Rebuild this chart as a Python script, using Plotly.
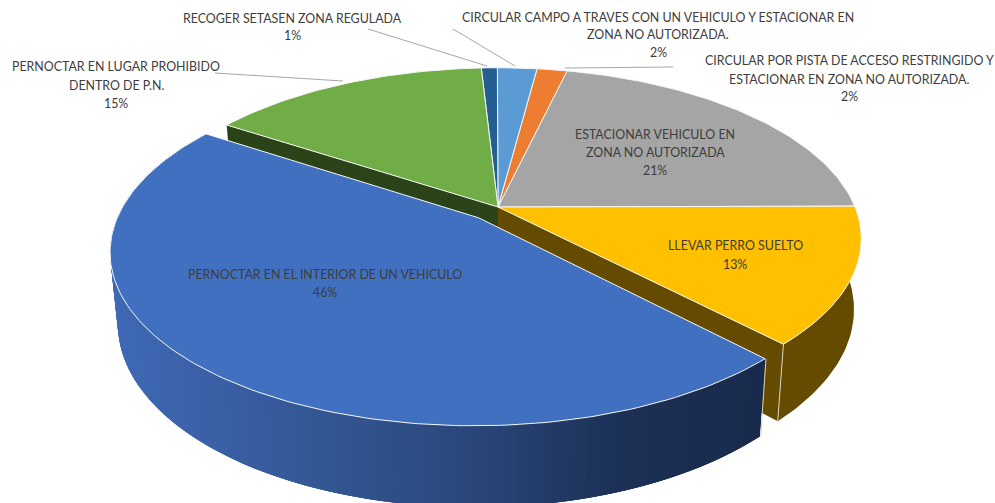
import numpy as np
import plotly.graph_objects as go

categories = [
    "LLEVAR PERRO SUELTO",
    "PERNOCTAR EN EL INTERIOR DE UN VEHICULO",
    "PERNOCTAR EN LUGAR PROHIBIDO\nDENTRO DE P.N.",
    "RECOGER SETASEN ZONA REGULADA",
    "CIRCULAR CAMPO A TRAVES CON UN VEHICULO Y ESTACIONAR EN\nZONA NO AUTORIZADA.",
    "CIRCULAR POR PISTA DE ACCESO RESTRINGIDO Y\nESTACIONAR EN ZONA NO AUTORIZADA.",
    "ESTACIONAR VEHICULO EN\nZONA NO AUTORIZADA",
]
values = [12.9, 46.4, 14.9, 0.85, 2.1, 1.6, 21.25]
percent_labels = ["13%", "46%", "15%", "1%", "2%", "2%", "21%"]
top_colors = ["#FFC000", "#4170C0", "#70AD47", "#255E91", "#5B9BD5", "#ED7D31", "#A5A5A5"]
wall_colors = ["#644B00", None, "#2B4318", None, None, None, None]
explode = [0, 30, 0, 0, 0, 0, 0]

label_x = [735, 325, 116, 292, 658, 849, 655]
label_y = [[245, 264], [274, 292], [66, 85, 103], [18, 35], [17, 34, 52], [60, 79, 96], [134, 152, 170]]
leader_x = [None, None, [215, 343], [368, 487], [453, 515], [565, 673], None]
leader_y = [None, None, [73, 81], [29, 66], [29, 66], [68, 67], None]

CX, CY, RX, B, K, H = 498.0, 207.0, 357.0, 165.0, 0.185, 69.0
START = -0.3

GRAD_POS = [0.0, 0.5, 0.78, 1.0]
GRAD_COL = ["#3F69B5", "#2C4A80", "#1C3056", "#192B4C"]


def project(u, v, z=0.0):
    w = 1 - K * v
    s = 1 - 0.02 * z
    return CX + RX * u / w * s, CY + B * v / w * s + z * H / w


def grad_color(f):
    rgb = [[int(c[i:i + 2], 16) for c in GRAD_COL] for i in (1, 3, 5)]
    return "rgb(%d,%d,%d)" % tuple(round(np.interp(f, GRAD_POS, ch)) for ch in rgb)


fig = go.Figure()


def poly(xs, ys, color, line=None, width=0.0):
    fig.add_trace(go.Scatter(
        x=list(xs), y=list(ys), mode="lines", fill="toself", fillcolor=color,
        line=dict(color=line or color, width=width),
        hoverinfo="skip", showlegend=False))


def edge_line(xs, ys):
    fig.add_trace(go.Scatter(x=xs, y=ys, mode="lines", line=dict(color="#D8D2C0", width=1),
                             hoverinfo="skip", showlegend=False))


edges = np.concatenate([[0], np.cumsum(values)]) / sum(values) * 2 * np.pi + np.radians(START)
order = [6, 5, 4, 3, 2, 0, 1]

for i in order:
    a0, a1 = edges[i], edges[i + 1]
    mid = (a0 + a1) / 2
    d = explode[i] / RX
    ox, oy = d * np.cos(mid), d * np.sin(mid)
    t = np.linspace(a0, a1, max(4, int((a1 - a0) * 50)))
    us, vs = ox + np.cos(t), oy + np.sin(t)

    if i == 1:  # gradient outer wall of the exploded slice; overlapping strips hide seams
        for j in range(len(t) - 1, 0, -1):
            f = np.clip((project(us[j], vs[j])[0] - 115) / (760 - 115), 0, 1)
            k = np.arange(max(j - 3, 0), j + 1)
            xt, yt = project(us[k], vs[k])
            xb, yb = project(us[k][::-1], vs[k][::-1], 1)
            poly(np.r_[xt, xb], np.r_[yt, yb], grad_color(f))
        x0, y0 = project(us[0], vs[0])
        x1, y1 = project(us[0], vs[0], 1)
        edge_line([x0 + 1, x1 + 1], [y0, y1])
    elif wall_colors[i]:
        e = a1 if i == 0 else a0
        xa, ya = project(0, 0)
        xb, yb = project(np.cos(e), np.sin(e))
        xc, yc = project(np.cos(e), np.sin(e), 1)
        xd, yd = project(0, 0, 1)
        if i == 0:
            xo, yo = project(us, vs)
            xl, yl = project(us[::-1], vs[::-1], 1)
            poly(np.r_[xo, xl], np.r_[yo, yl], wall_colors[i])
        poly([xa, xb, xc, xd], [ya, yb, yc, yd], wall_colors[i])
        if i == 0:
            edge_line([xb, xc], [yb, yc])
    xo, yo = project(np.r_[ox, us, ox], np.r_[oy, vs, oy])
    poly(xo, yo, top_colors[i], line="#F6F6F6", width=1)

for lx, ly in zip(leader_x, leader_y):
    if lx:
        fig.add_trace(go.Scatter(x=lx, y=ly, mode="lines", line=dict(color="#A6A6A6", width=1),
                                 hoverinfo="skip", showlegend=False))

annotations = []
for name, pct, x, ys in zip(categories, percent_labels, label_x, label_y):
    for text, y in zip(name.split("\n") + [pct], ys):
        annotations.append(dict(x=x, y=y, text=text, showarrow=False, xanchor="center", yanchor="middle",
                                font=dict(family="Lato", size=12.4, color="#3D3D3D")))

fig.update_layout(
    width=995, height=503, margin=dict(l=0, r=0, t=0, b=0),
    paper_bgcolor="white", plot_bgcolor="white", showlegend=False, annotations=annotations,
    xaxis=dict(range=[0, 995], visible=False, fixedrange=True),
    yaxis=dict(range=[503, 0], visible=False, fixedrange=True),
)
fig.write_html("out.html", config=dict(displayModeBar=False),
               post_script="document.body.style.margin='0';document.documentElement.style.overflow='hidden';")
